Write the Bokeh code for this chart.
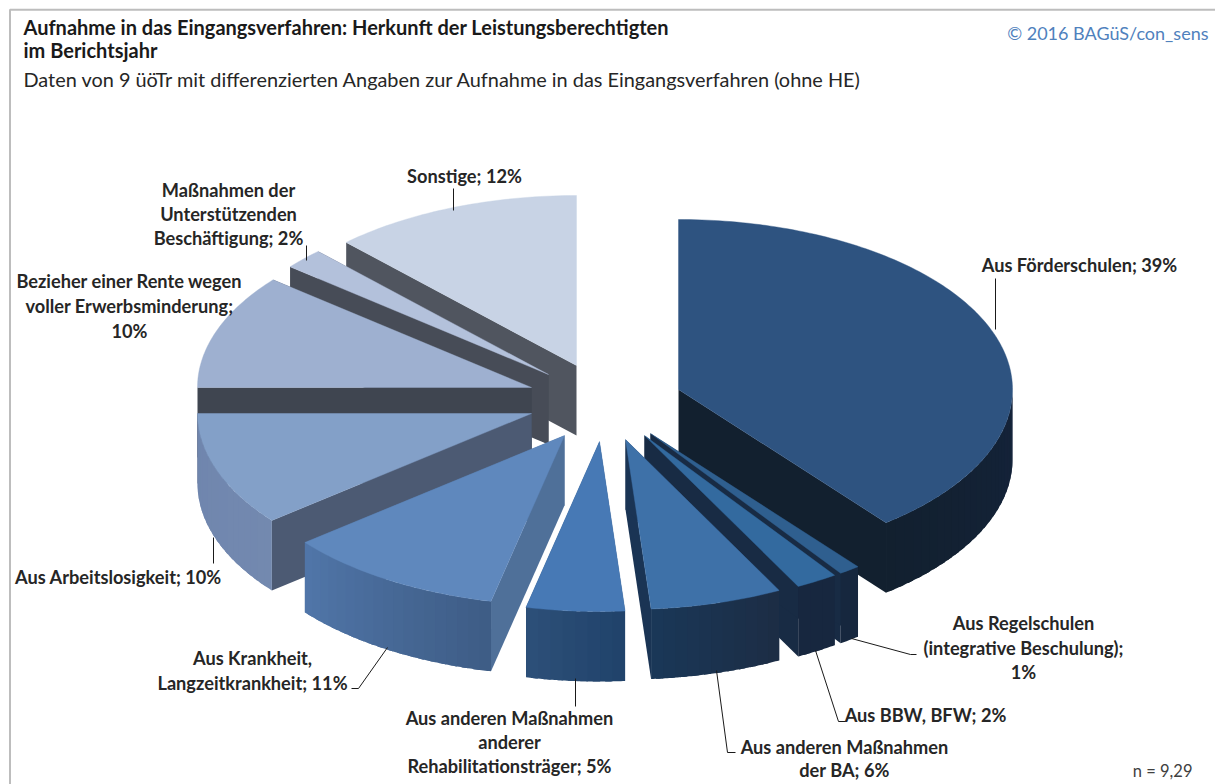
import math
from bokeh.plotting import figure, ColumnDataSource
from bokeh.models import Range1d
from bokeh.core.properties import value
from bokeh.embed import file_html
from bokeh.resources import INLINE

# ---- data ----
categories = ["Aus Förderschulen", "Aus Regelschulen (integrative Beschulung)", "Aus BBW, BFW",
              "Aus anderen Maßnahmen der BA", "Aus anderen Maßnahmen anderer Rehabilitationsträger",
              "Aus Krankheit, Langzeitkrankheit", "Aus Arbeitslosigkeit",
              "Bezieher einer Rente wegen voller Erwerbsminderung",
              "Maßnahmen der Unterstützenden Beschäftigung", "Sonstige"]
labelled_percent = [39, 1, 2, 6, 5, 11, 10, 10, 2, 12]
shares = [39.33, 1.03, 2.03, 6.39, 4.75, 10.64, 10.83, 10.92, 1.97, 12.11]

# ---- pie layout (pixel-like data space) ----
RX, RY, DEPTH = 334, 170, 70
apex_x = [678, 650, 644, 625, 599, 564, 531, 531, 548, 576]
apex_y = [389, 433, 435, 439, 441, 435, 413, 387, 374, 365]
top_colors = ["#2E5380", "#2F5F8F", "#336A9F", "#3E71A8", "#4779B5",
              "#5F88BD", "#83A0C8", "#9EB0D0", "#B3C1DB", "#C8D3E5"]
cut_colors = ["#12202F", "#182B44", "#182B44", "#1A3454", "#24466E",
              "#4F7099", "#4C5A73", "#3F4550", "#474C57", "#50555F"]
wall_from = ["#14233A", "#16273E", "#17273F", "#1C2C44", "#20426A",
             "#3E5C85", "#7389AF", "#6F85AE", "#6F85AE", "#6F85AE"]
wall_to = ["#12202F", "#16273E", "#17273F", "#1A3858", "#2D5079",
           "#5076A9", "#6F85AE", "#6F85AE", "#6F85AE", "#6F85AE"]
paint_order = [9, 8, 7, 6, 5, 0, 1, 2, 3, 4]

total = sum(shares)
starts, acc = [], 0.0
for s in shares:
    starts.append(acc / total * 360)
    acc += s
ends = starts[1:] + [360.0]


def rim(i, deg, z=0):
    t = math.radians(deg)
    return apex_x[i] + RX * math.sin(t), apex_y[i] - RY * math.cos(t) + z * DEPTH


def mix(c1, c2, f):
    a = [int(c1[k:k + 2], 16) for k in (1, 3, 5)]
    b = [int(c2[k:k + 2], 16) for k in (1, 3, 5)]
    return "#%02X%02X%02X" % tuple(round(p + (q - p) * f) for p, q in zip(a, b))


xs, ys, cols, lws = [], [], [], []


def add(pts, col, lw=0.0):
    xs.append([q[0] for q in pts])
    ys.append([q[1] for q in pts])
    cols.append(col)
    lws.append(lw)


for i in paint_order:
    a0, a1 = starts[i], ends[i]
    A = (apex_x[i], apex_y[i])
    Ad = (apex_x[i], apex_y[i] + DEPTH)
    # cut faces
    add([A, rim(i, a1), rim(i, a1, 1), Ad], cut_colors[i])
    add([A, rim(i, a0), rim(i, a0, 1), Ad], cut_colors[i])
    # rim wall, only the part that faces the viewer; strips overlap to avoid seams
    lo, hi = max(a0, 90), min(a1, 270)
    if hi > lo:
        n = max(1, int((hi - lo) / 2))
        step = (hi - lo) / n
        for k in range(n):
            d0 = lo + step * k
            d1 = min(hi, d0 + step * 1.6)
            col = mix(wall_from[i], wall_to[i], (k + .5) / n)
            pts = [rim(i, d0 + step * j / 6) for j in range(int((d1 - d0) / step * 6) + 1)] + [rim(i, d1)]
            pts += [(q[0], q[1] + DEPTH) for q in reversed(pts)]
            add(pts, col)
    # top face
    n = max(2, int(a1 - a0))
    add([A] + [rim(i, a0 + (a1 - a0) * k / n) for k in range(n + 1)], top_colors[i], 0.4)

p = figure(width=1215, height=784, output_backend="svg", toolbar_location=None,
           x_range=Range1d(0, 1215), y_range=Range1d(784, 0),
           x_axis_type=None, y_axis_type=None, min_border=0)
p.grid.visible = False
p.outline_line_color = None
p.background_fill_color = "white"

src = ColumnDataSource(dict(xs=xs, ys=ys, c=cols, lw=lws))
p.patches("xs", "ys", source=src, fill_color="c", line_color="c", line_width="lw")

# frame
p.line([9.5, 9.5, 1215], [784, 9.2, 9.2], line_color="#BDBDBD", line_width=2)

# leader lines
leaders = [
    ([995, 995], [278, 329]),
    ([851, 910, 916], [638, 654, 654]),
    ([815, 838, 845], [650, 721, 721]),
    ([716, 727, 735], [670, 752, 752]),
    ([575, 575], [678, 706]),
    ([387, 358, 351], [647, 688, 688]),
    ([213, 213], [537, 563]),
    ([306, 306], [245, 260]),
    ([453, 453], [188, 210]),
]
p.multi_line([l[0] for l in leaders], [l[1] for l in leaders], line_color="#1A1A1A", line_width=1)

FONT = value("Lato")
LABEL_SIZE = "18.2px"


def txt(x, y, s, size=LABEL_SIZE, bold=True, align="center", color="#262626"):
    p.text([x], [y], text=[s], text_font=FONT, text_font_size=size,
           text_font_style="bold" if bold else "normal", text_align=align,
           text_baseline="middle", text_color=color)


txt(23, 26, "Aufnahme in das Eingangsverfahren: Herkunft der Leistungsberechtigten", "20px", True, "left", "#1A1A1A")
txt(23, 49, "im Berichtsjahr", "20px", True, "left", "#1A1A1A")
txt(23, 78, "Daten von 9 üöTr mit differenzierten Angaben zur Aufnahme in das Eingangsverfahren (ohne HE)",
    "19.9px", False, "left", "#262626")
txt(1208, 32, "© 2016 BAGüS/con_sens", "18px", False, "right", "#4F81BD")
txt(1192, 770, "n = 9,29", "16.5px", False, "right", "#404040")

pct = labelled_percent
label_lines = [
    (1079, 264, f"Aus Förderschulen; {pct[0]}%"),
    (1023, 622, "Aus Regelschulen"),
    (1023, 647, "(integrative Beschulung);"),
    (1023, 671, f"{pct[1]}%"),
    (925, 714, f"Aus BBW, BFW; {pct[2]}%"),
    (844, 746, "Aus anderen Maßnahmen"),
    (844, 769, f"der BA; {pct[3]}%"),
    (509, 717, "Aus anderen Maßnahmen"),
    (509, 741, "anderer"),
    (509, 765, f"Rehabilitationsträger; {pct[4]}%"),
    (252, 657, "Aus Krankheit,"),
    (252, 682, f"Langzeitkrankheit; {pct[5]}%"),
    (118, 576, f"Aus Arbeitslosigkeit; {pct[6]}%"),
    (129, 280, "Bezieher einer Rente wegen"),
    (129, 305, "voller Erwerbsminderung;"),
    (129, 330, f"{pct[7]}%"),
    (228, 189, "Maßnahmen der"),
    (228, 213, "Unterstützenden"),
    (228, 237, f"Beschäftigung; {pct[8]}%"),
    (464, 175, f"Sonstige; {pct[9]}%"),
]
for x, y, s in label_lines:
    txt(x, y, s)

open("out.html", "w").write(file_html(p, INLINE))
